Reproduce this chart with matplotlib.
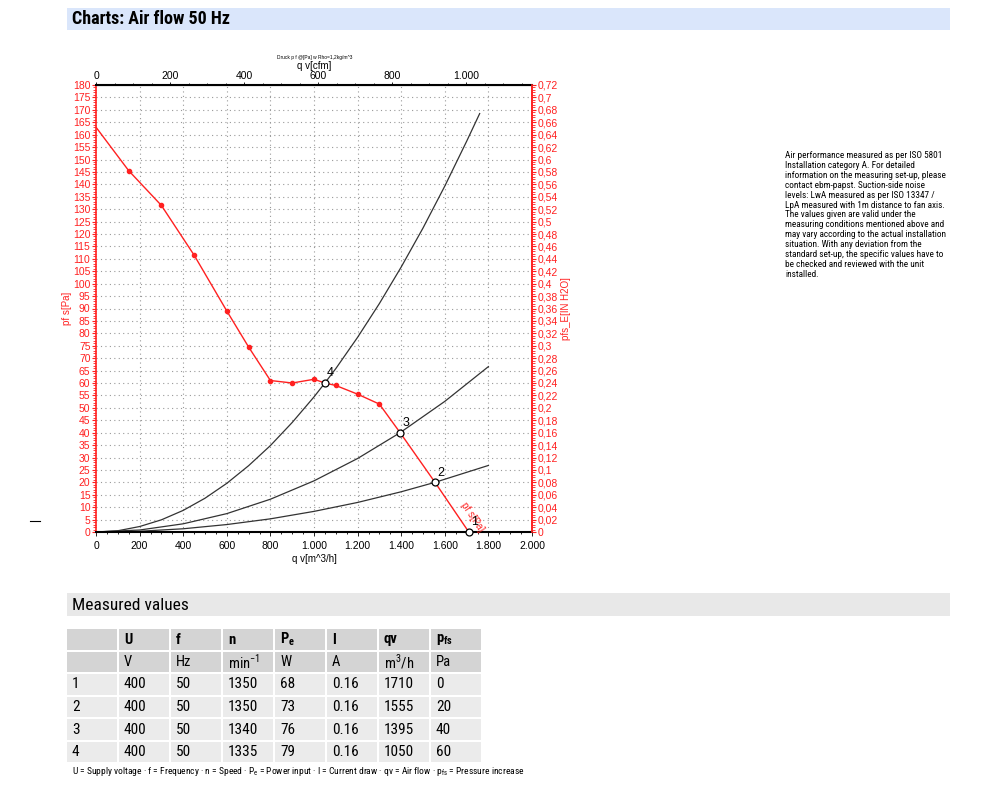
import matplotlib
matplotlib.use("Agg")
import matplotlib.pyplot as plt
from matplotlib.patches import Rectangle
from matplotlib.ticker import MultipleLocator, FuncFormatter
from matplotlib.lines import Line2D

schmal = ['Roboto Condensed', 'Archivo Narrow', 'Liberation Sans', 'DejaVu Sans']
plt.rcParams['font.family'] = ['Liberation Sans', 'DejaVu Sans']
plt.rcParams['mathtext.fontset'] = 'custom'
plt.rcParams['mathtext.rm'] = 'Roboto Condensed'
plt.rcParams['mathtext.bf'] = 'Roboto Condensed:bold'

# Kennlinie (qv in m^3/h, pfs in Pa)
kennlinie_q = [0, 150, 300, 450, 600, 700, 800, 900, 1000, 1050, 1100, 1200, 1300, 1395, 1555, 1710]
kennlinie_p = [163, 145.5, 131.5, 111.5, 89, 74.5, 61, 60, 61.5, 60, 59, 55.5, 51.5, 40, 20, 0]
mess_q = [150, 300, 450, 600, 700, 800, 900, 1000, 1100, 1200, 1300]
mess_p = [145.5, 131.5, 111.5, 89, 74.5, 61, 60, 61.5, 59, 55.5, 51.5]

# Anlagenkennlinien
anl4_q = [0, 100, 200, 300, 400, 500, 600, 700, 800, 900, 1000, 1050, 1100, 1200, 1300, 1400, 1500, 1600, 1700, 1760]
anl4_p = [0, 0.5, 2.2, 4.9, 8.7, 13.6, 19.6, 26.7, 34.8, 44.1, 54.4, 60, 65.8, 78.4, 92, 106.7, 122.4, 139.3, 157.3, 168.5]
anl3_q = [0, 200, 400, 600, 800, 1000, 1200, 1395, 1600, 1800]
anl3_p = [0, 0.8, 3.3, 7.4, 13.2, 20.6, 29.6, 40, 52.6, 66.6]
anl2_q = [0, 200, 400, 600, 800, 1000, 1200, 1400, 1555, 1800]
anl2_p = [0, 0.3, 1.3, 3.0, 5.3, 8.3, 11.9, 16.2, 20, 26.8]

# Betriebspunkte
bp_nr = ['1', '2', '3', '4']
bp_q = [1710, 1555, 1395, 1050]
bp_p = [0, 20, 40, 60]

# Tabelle
tab_kopf1 = ['', 'U', 'f', 'n', r'$\mathbf{P_e}$', 'I', 'qv', r'$\mathbf{p_{fs}}$']
tab_kopf2 = ['', 'V', 'Hz', r'min$^{\mathregular{-1}}$', 'W', 'A', r'm$^{\mathregular{3}}$/h', 'Pa']
tab_zeilen = [
    ['1', '400', '50', '1350', '68', '0.16', '1710', '0'],
    ['2', '400', '50', '1350', '73', '0.16', '1555', '20'],
    ['3', '400', '50', '1340', '76', '0.16', '1395', '40'],
    ['4', '400', '50', '1335', '79', '0.16', '1050', '60'],
]

info_text = ("Air performance measured as per ISO 5801\n"
             "Installation category A. For detailed\n"
             "information on the measuring set-up, please\n"
             "contact ebm-papst. Suction-side noise\n"
             "levels: LwA measured as per ISO 13347 /\n"
             "LpA measured with 1m distance to fan axis.\n"
             "The values given are valid under the\n"
             "measuring conditions mentioned above and\n"
             "may vary according to the actual installation\n"
             "situation. With any deviation from the\n"
             "standard set-up, the specific values have to\n"
             "be checked and reviewed with the unit\n"
             "installed.")

W, H = 1000, 800
fig = plt.figure(figsize=(10, 8), dpi=100)


def px(x, y):
    return x / W, 1 - y / H


def box(x, y, w, h, color):
    fig.add_artist(Rectangle((x / W, 1 - (y + h) / H), w / W, h / H,
                             transform=fig.transFigure, color=color, lw=0))


# Kopfbalken
box(67, 8, 883, 22, '#dae6fb')
fig.text(*px(72, 19), 'Charts: Air flow 50 Hz', fontsize=13, fontweight='bold', va='center', family=schmal)

# Diagramm
rot = '#ff2020'
ax = fig.add_axes([0.096, 0.335, 0.436, 0.55875])
ax.set_xlim(0, 2000)
ax.set_ylim(0, 180)

for yy in range(5, 180, 5):
    ax.axhline(yy, color='#999999', lw=0.8, ls=(0, (1, 3)), zorder=0)
for xx in range(200, 2000, 200):
    ax.axvline(xx, color='#999999', lw=0.8, ls=(0, (1, 3)), zorder=0)

ax.plot(anl4_q, anl4_p, color='#333333', lw=0.9)
ax.plot(anl3_q, anl3_p, color='#333333', lw=0.9)
ax.plot(anl2_q, anl2_p, color='#333333', lw=0.9)
ax.plot(kennlinie_q, kennlinie_p, color=rot, lw=1.0, zorder=3)
ax.plot(mess_q, mess_p, 'o', color=rot, ms=3, zorder=3)
ax.plot(bp_q, bp_p, 'o', mfc='white', mec='black', ms=5, mew=0.9, zorder=4, clip_on=False)
for nr, q, p in zip(bp_nr, bp_q, bp_p):
    ax.text(q + 10, p + 1.5, nr, fontsize=9, ha='left', va='bottom', zorder=5)
ax.text(1728, 6, 'pf s[Pa]', color=rot, fontsize=7, rotation=-56, ha='center', va='center')

ax.xaxis.set_major_locator(MultipleLocator(200))
ax.xaxis.set_minor_locator(MultipleLocator(50))
ax.yaxis.set_major_locator(MultipleLocator(5))
ax.yaxis.set_minor_locator(MultipleLocator(1))
ax.xaxis.set_major_formatter(FuncFormatter(lambda v, p: '{:,.0f}'.format(v).replace(',', '.')))
ax.tick_params(axis='x', labelsize=7.5, length=3, width=0.6)
ax.tick_params(axis='x', which='minor', length=1.5)
ax.tick_params(axis='y', colors=rot, labelsize=7.5, length=3, width=0.8, pad=1)
ax.tick_params(axis='y', which='minor', colors=rot, length=2, width=0.6)
ax.spines['left'].set_color(rot)
ax.spines['left'].set_linewidth(1.2)
ax.spines['right'].set_color(rot)
ax.spines['right'].set_linewidth(1.2)
ax.spines['bottom'].set_linewidth(1.5)
ax.spines['top'].set_linewidth(1.5)
ax.set_xlabel('q v[m^3/h]', fontsize=7, labelpad=2)
ax.set_ylabel('pf s[Pa]', fontsize=7, color=rot, labelpad=1)

ax2 = ax.twinx()
ax2.set_ylim(0, 0.72)
ax2.yaxis.set_major_locator(MultipleLocator(0.02))
ax2.yaxis.set_minor_locator(MultipleLocator(0.004))
ax2.yaxis.set_major_formatter(FuncFormatter(lambda v, p: '{:g}'.format(round(v, 2)).replace('.', ',')))
ax2.tick_params(axis='y', colors=rot, labelsize=7.5, length=3, width=0.8, pad=1)
ax2.tick_params(axis='y', which='minor', colors=rot, length=2, width=0.6)
ax2.spines['right'].set_color(rot)
ax2.spines['right'].set_linewidth(1.2)
ax2.spines['left'].set_visible(False)
ax2.spines['top'].set_visible(False)
ax2.spines['bottom'].set_visible(False)
ax2.set_ylabel('pfs_E[IN H2O]', fontsize=7, color=rot, rotation=90, labelpad=2)

ax3 = ax.secondary_xaxis('top', functions=(lambda x: x / 1.699, lambda x: x * 1.699))
ax3.xaxis.set_major_locator(MultipleLocator(200))
ax3.xaxis.set_minor_locator(MultipleLocator(50))
ax3.xaxis.set_major_formatter(FuncFormatter(lambda v, p: '{:,.0f}'.format(v).replace(',', '.')))
ax3.tick_params(axis='x', labelsize=7.5, length=2, width=0.6, pad=1)
ax3.tick_params(axis='x', which='minor', length=1.5)
ax3.set_xlabel('q v[cfm]', fontsize=7, labelpad=1)
fig.text(*px(315, 57), 'Druck p f @[Pa] w Rho=1,2kg/m^3', fontsize=3.5, ha='center', va='center')

fig.add_artist(Line2D([30 / W, 40 / W], [1 - 521 / H, 1 - 521 / H], color='black', lw=0.8))

# Hinweistext
fig.text(*px(785, 151), info_text, fontsize=6.7, va='top', ha='left', linespacing=1.13, family=schmal)

# Messwerte
box(67, 593, 883, 23, '#e8e8e8')
fig.text(*px(72, 605), 'Measured values', fontsize=12.5, va='center', family=schmal)

zeilen = [tab_kopf1, tab_kopf2] + tab_zeilen
for r, zeile in enumerate(zeilen):
    y0 = 629 + r * 22.5
    farbe = '#d4d4d4' if r < 2 else '#ebebeb'
    for c, wert in enumerate(zeile):
        x0 = 67 + c * 52
        box(x0, y0, 50, 20.5, farbe)
        fig.text(*px(x0 + 5, y0 + 10.5), wert, fontsize=11 if r > 1 else 10.5, va='center', ha='left',
                 fontweight='bold' if r == 0 else 'normal', family=schmal)

fig.text(*px(72, 772), r'U = Supply voltage · f = Frequency · n = Speed · $\mathregular{P_e}$ = Power input · '
         r'I = Current draw · qv = Air flow · $\mathregular{p_{fs}}$ = Pressure increase',
         fontsize=6.8, va='center', ha='left', family=schmal)

fig.savefig('out.png', dpi=100)
